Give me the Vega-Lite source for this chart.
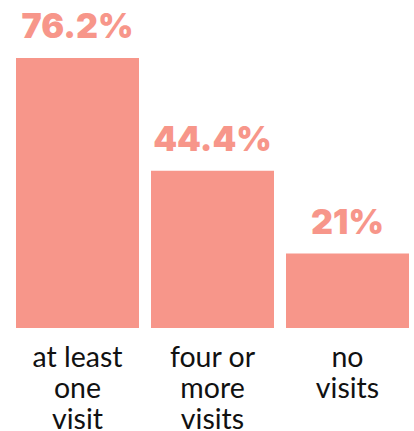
{
  "$schema": "https://vega.github.io/schema/vega-lite/v6.json",
  "width": 393,
  "height": 328,
  "autosize": "none",
  "padding": {"left": 16, "top": 0, "right": 5, "bottom": 103},
  "background": "#ffffff",
  "config": {"view": {"stroke": null}},
  "data": {"values": [
    {"cat": "at least one visit", "value": 76.2, "label": "76.2%"},
    {"cat": "four or more visits", "value": 44.4, "label": "44.4%"},
    {"cat": "no visits", "value": 21, "label": "21%"}
  ]},
  "encoding": {
    "x": {"field": "cat", "type": "nominal", "sort": null,
      "scale": {"paddingInner": 0.0889, "paddingOuter": 0},
      "axis": {"title": null, "domain": false, "ticks": false, "labelAngle": 0,
        "labelExpr": "datum.label == 'at least one visit' ? ['at least','one','visit'] : datum.label == 'four or more visits' ? ['four or','more','visits'] : ['no','visits']",
        "labelFont": "Lato", "labelFontSize": 28.5, "labelColor": "#111111", "labelLineHeight": 31,
        "labelPadding": 15, "labelBaseline": "top"}},
    "y": {"field": "value", "type": "quantitative",
      "scale": {"domain": [0, 92.57]}, "axis": null}
  },
  "layer": [
    {"mark": {"type": "bar", "color": "#f7968a"}},
    {"mark": {"type": "text", "baseline": "alphabetic", "dy": -20, "font": "Inter", "fontWeight": 900, "fontSize": 34, "color": "#f7968a"},
      "encoding": {"text": {"field": "label"}}}
  ]
}
